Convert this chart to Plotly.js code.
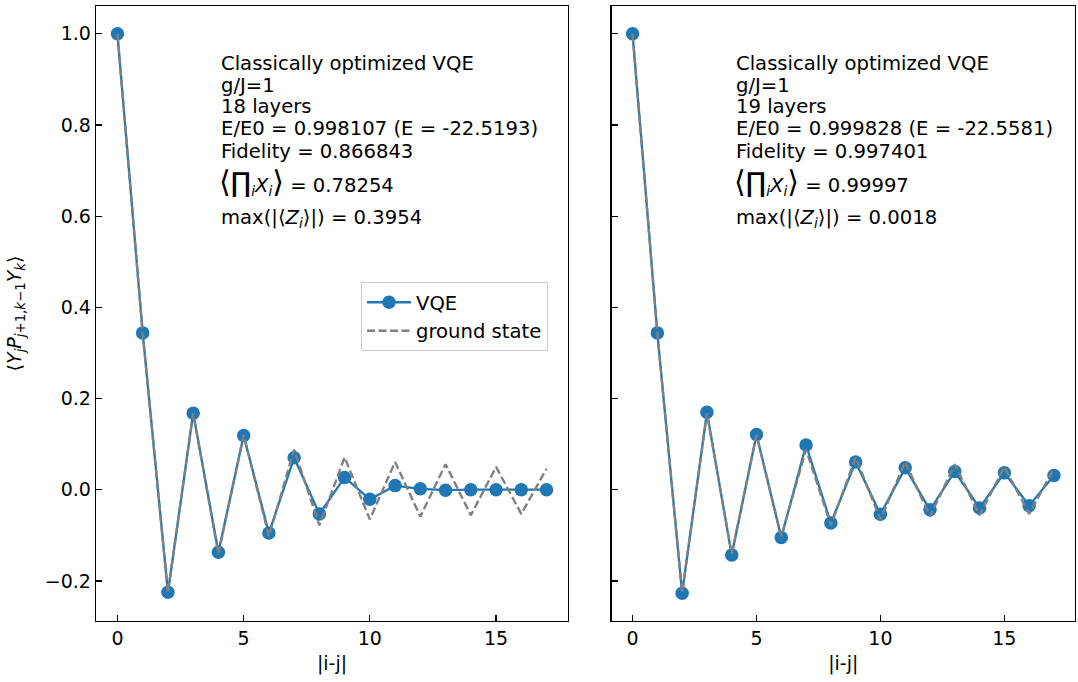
<!DOCTYPE html>
<html>
<head>
<meta charset="utf-8">
<script src="https://cdn.plot.ly/plotly-3.0.1.min.js"></script>
<style>html,body{margin:0;padding:0;background:#fff;}#chart{width:1078px;height:682px;}</style>
</head>
<body>
<div id="chart"></div>
<script>
// ---- data ----
const distance = [0, 1, 2, 3, 4, 5, 6, 7, 8, 9, 10, 11, 12, 13, 14, 15, 16, 17];
const vqeLeft = [1.0, 0.344, -0.225, 0.168, -0.137, 0.119, -0.095, 0.070, -0.053, 0.027, -0.021, 0.009, 0.002, -0.001, 0.0, 0.0, 0.0, 0.0];
const vqeRight = [1.0, 0.344, -0.227, 0.170, -0.143, 0.121, -0.105, 0.098, -0.073, 0.061, -0.054, 0.048, -0.044, 0.040, -0.040, 0.037, -0.035, 0.031];
const groundState = [1.0, 0.343, -0.226, 0.168, -0.141, 0.120, -0.102, 0.088, -0.078, 0.071, -0.065, 0.061, -0.059, 0.056, -0.056, 0.050, -0.053, 0.046];
const xTicks = [0, 5, 10, 15];
const yTicks = [-0.2, 0.0, 0.2, 0.4, 0.6, 0.8, 1.0];
const seriesNames = ['VQE', 'ground state'];
const infoLeft = [
  'Classically optimized VQE',
  'g/J=1',
  '18 layers',
  'E/E0 = 0.998107 (E = -22.5193)',
  'Fidelity = 0.866843'
];
const infoRight = [
  'Classically optimized VQE',
  'g/J=1',
  '19 layers',
  'E/E0 = 0.999828 (E = -22.5581)',
  'Fidelity = 0.997401'
];
const prodXLeft = '0.78254';
const prodXRight = '0.99997';
const maxZLeft = '0.3954';
const maxZRight = '0.0018';

// ---- styling ----
const FONT = 'DejaVu Sans, Liberation Sans, sans-serif';
const FS = 19;
const FA = 19.6;
const blue = '#1f77b4';
const grey = '#808080';
const W = 1078, H = 682;
const py = p => 1 - p / H;
const px = p => p / W;

function vqeTrace(y, xa, ya, show) {
  return {x: distance, y: y, xaxis: xa, yaxis: ya, type: 'scatter', mode: 'lines+markers',
    name: seriesNames[0], showlegend: show, legendrank: 1,
    line: {color: blue, width: 2.3}, marker: {color: blue, size: 13.5}};
}
function gsTrace(y, xa, ya, show) {
  return {x: distance, y: y, xaxis: xa, yaxis: ya, type: 'scatter', mode: 'lines',
    name: seriesNames[1], showlegend: show, legendrank: 2,
    line: {color: grey, width: 2.4, dash: '8px,3.5px'}};
}

const traces = [
  vqeTrace(vqeLeft, 'x', 'y', true),
  gsTrace(groundState, 'x', 'y', true),
  vqeTrace(vqeRight, 'x2', 'y2', false),
  gsTrace(groundState, 'x2', 'y2', false)
];

function xaxisCfg(domain, anchor) {
  return {domain: domain, anchor: anchor, range: [-0.85, 17.85], tickvals: xTicks,
    ticks: 'inside', ticklen: 6, tickwidth: 1.2, tickcolor: '#000',
    showline: true, mirror: true, linecolor: '#000', linewidth: 1.3,
    showgrid: false, zeroline: false, automargin: false,
    tickfont: {family: FONT, size: FS, color: '#000'},
    title: {text: '|i-j|', font: {family: FONT, size: FS, color: '#000'}, standoff: 8}};
}
function yaxisCfg(anchor, labels, title) {
  const c = {domain: [0.0894, 0.9912], anchor: anchor, range: [-0.288, 1.061], tickvals: yTicks,
    tickformat: '.1f', showticklabels: labels,
    ticks: 'inside', ticklen: 6, tickwidth: 1.2, tickcolor: '#000',
    showline: true, mirror: true, linecolor: '#000', linewidth: 1.3,
    showgrid: false, zeroline: false, automargin: false,
    tickfont: {family: FONT, size: FS, color: '#000'}};
  if (title) c.title = {text: title, font: {family: FONT, size: FS, color: '#000'}, standoff: 18};
  return c;
}

const yTitle = '⟨<i>Y</i><sub><i>j</i></sub><i>P</i><sub><i>j</i>+1,<i>k</i>−1</sub><i>Y</i><sub><i>k</i></sub>⟩';

function infoAnnotations(lines, prodVal, maxVal, xLeftPx) {
  const centers = [63.5, 85, 106.5, 128.5, 151];
  const out = lines.map((t, i) => ({
    text: t, xref: 'paper', yref: 'paper', x: px(xLeftPx), y: py(centers[i]),
    xanchor: 'left', yanchor: 'middle', showarrow: false,
    font: {family: FONT, size: FA, color: '#000'}
  }));
  out.push({
    text: '<span style="font-size:30px">⟨</span><span style="font-size:27px">∏</span><sub><i>i</i></sub><i>X<sub>i</sub></i><span style="font-size:30px">⟩</span> = ' + prodVal,
    xref: 'paper', yref: 'paper', x: px(xLeftPx - 2), y: py(181),
    xanchor: 'left', yanchor: 'middle', showarrow: false,
    font: {family: FONT, size: FA, color: '#000'}
  });
  out.push({
    text: 'max(|⟨<i>Z<sub>i</sub></i>⟩|) = ' + maxVal,
    xref: 'paper', yref: 'paper', x: px(xLeftPx), y: py(219),
    xanchor: 'left', yanchor: 'middle', showarrow: false,
    font: {family: FONT, size: FA, color: '#000'}
  });
  return out;
}

const layout = {
  width: W, height: H,
  margin: {l: 0, r: 0, t: 0, b: 0, pad: 0},
  paper_bgcolor: '#fff', plot_bgcolor: '#fff',
  font: {family: FONT, size: FS, color: '#000'},
  xaxis: xaxisCfg([96 / W, 568 / W], 'y'),
  yaxis: yaxisCfg('x', true, yTitle),
  xaxis2: xaxisCfg([611.5 / W, 1075 / W], 'y2'),
  yaxis2: yaxisCfg('x2', false, null),
  showlegend: true,
  legend: {x: px(361), y: py(282), xanchor: 'left', yanchor: 'top',
    bgcolor: 'rgba(255,255,255,0.8)', bordercolor: '#cccccc', borderwidth: 1,
    font: {family: FONT, size: FA, color: '#000'}, itemwidth: 44, tracegroupgap: 0},
  annotations: infoAnnotations(infoLeft, prodXLeft, maxZLeft, 219)
    .concat(infoAnnotations(infoRight, prodXRight, maxZRight, 734))
};

Plotly.newPlot('chart', traces, layout, {displayModeBar: false, staticPlot: true});
</script>
</body>
</html>
